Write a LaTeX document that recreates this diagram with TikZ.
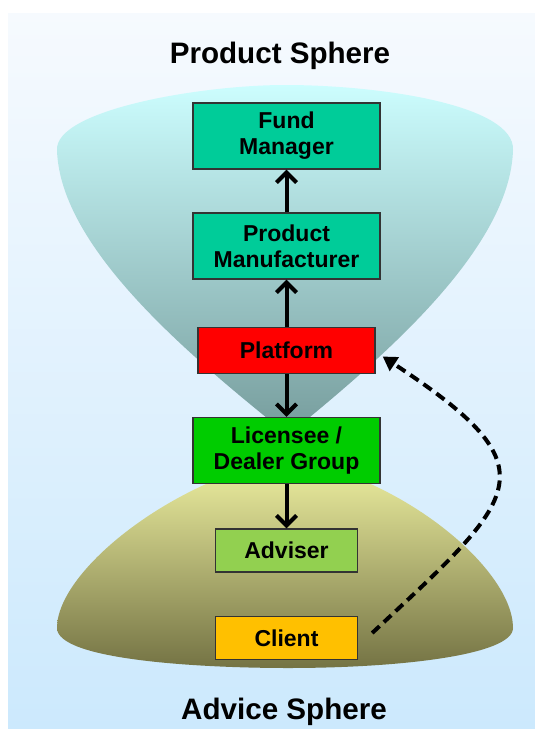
\documentclass[tikz,border=0pt]{standalone}
\usepackage{fontspec}
\setmainfont{Liberation Sans}
\usetikzlibrary{arrows.meta}
\definecolor{skytop}{RGB}{246,250,254}
\definecolor{skybot}{RGB}{204,233,253}
\definecolor{cuptop}{RGB}{204,253,254}
\definecolor{cupbot}{RGB}{118,156,156}
\definecolor{bowltop}{RGB}{240,242,162}
\definecolor{bowlbot}{RGB}{116,115,68}
\definecolor{pmgreen}{RGB}{0,204,153}
\definecolor{pfred}{RGB}{255,0,0}
\definecolor{dggreen}{RGB}{0,204,0}
\definecolor{advgreen}{RGB}{146,208,80}
\definecolor{clamber}{RGB}{255,192,0}

\begin{document}
\begin{tikzpicture}[x=0.5pt,y=-0.5pt,
  box/.style={draw=black!80,line width=0.7pt,align=center,inner sep=0pt,
    font=\fontsize{11.5}{13}\selectfont\bfseries},
  wide/.style={box,minimum width=93.5pt,minimum height=33pt},
  narrow/.style={box,minimum width=71pt,minimum height=21.5pt},
  flow/.style={line width=2pt,-{Straight Barb[length=5pt,width=10pt]}},
  title/.style={font=\fontsize{14.8}{17}\selectfont\bfseries}]
  \useasboundingbox (0,0) rectangle (535,729);
  \fill[white] (0,0) rectangle (535,729);
  \shade[top color=skytop,bottom color=skybot] (8,13) rectangle (535,729);
  % product cup and advice bowl
  \shade[top color=cuptop,bottom color=cupbot]
    (288,435) .. controls (195,360) and (60,250) .. (57,150)
    .. controls (55,110) and (200,85) .. (285,85)
    .. controls (380,85) and (515,105) .. (513,150)
    .. controls (510,250) and (380,360) .. cycle;
  \shade[top color=bowltop,bottom color=bowlbot]
    (288,458) .. controls (175,478) and (57,570) .. (57,628)
    .. controls (57,660) and (200,668) .. (288,668)
    .. controls (400,668) and (513,655) .. (513,628)
    .. controls (513,570) and (405,478) .. cycle;
  \node[title] (prodsph) at (280,56) {Product Sphere};
  \node[title] (advsph) at (284,712) {Advice Sphere};
  \node[wide,fill=pmgreen] (fund) at (286.5,136) {Fund\\Manager};
  \node[wide,fill=pmgreen] (maker) at (286.5,246) {Product\\Manufacturer};
  \node[box,fill=pfred,minimum width=88.5pt,minimum height=23pt] (platform) at (286.5,350.5) {Platform};
  \node[wide,fill=dggreen] (dealer) at (286.5,450.5) {Licensee /\\Dealer Group};
  \node[narrow,fill=advgreen] (adviser) at (286.5,550.5) {Adviser};
  \node[narrow,fill=clamber] (client) at (286.5,638) {Client};
  \draw[flow] (maker) -- (fund);
  \draw[flow] (platform) -- (maker);
  \draw[flow] (platform) -- (dealer);
  \draw[flow] (dealer) -- (adviser);
  % client goes straight to the platform
  \draw[line width=2pt,dash pattern=on 5pt off 3pt,-{Triangle[length=7pt,width=8pt]}]
    ([xshift=7pt,yshift=2.5pt]client.east) .. controls (520,495) and (555,470)
    .. ([xshift=3.5pt,yshift=-3pt]platform.east);
\end{tikzpicture}
\end{document}
